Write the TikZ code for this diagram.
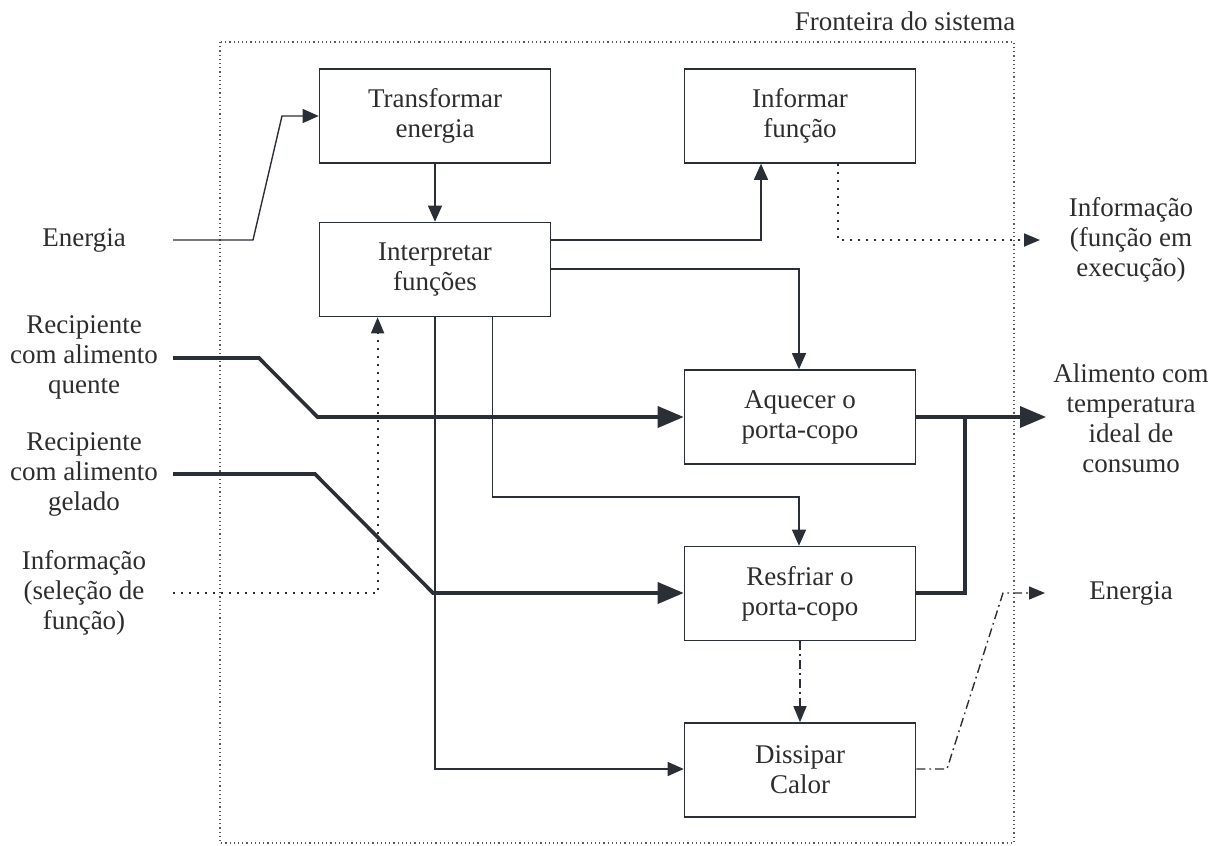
\documentclass[tikz,border=0pt]{standalone}
\usepackage{fontspec}
\setmainfont{Liberation Serif}
\usetikzlibrary{arrows.meta}
\definecolor{ink}{RGB}{42,47,53}
\definecolor{txt}{RGB}{45,45,45}
\begin{document}
\begin{tikzpicture}[x=1pt,y=-1pt,
  every node/.style={font=\fontsize{27}{30}\selectfont, text=txt},
  fbox/.style={draw=ink, line width=1.6pt, minimum width=231pt, minimum height=94pt, align=center, inner sep=0pt},
  lbl/.style={align=center, inner sep=0pt},
  thin/.style={draw=ink, line width=1.4pt},
  thick/.style={draw=ink, line width=3.6pt},
  info/.style={draw=ink, line width=1.8pt, dash pattern=on 2pt off 6pt},
  heat/.style={draw=ink, line width=1.4pt, dash pattern=on 9pt off 4pt on 1.8pt off 4pt},
  tipS/.style={-{Triangle[length=16pt,width=14pt]}},
  tipL/.style={-{Triangle[length=26pt,width=21pt]}},
  tipD/.style={-{Triangle[length=16pt,width=13pt]}},
  border/.style={draw=black!65, line width=1.2pt, dash pattern=on 1.2pt off 3pt}
]
\useasboundingbox (0,0) rectangle (1219,846);

% system boundary
\draw[border] (220,42) rectangle (1014,843);
\node[lbl] (front) at (905,21) {Fronteira do sistema};

% function blocks
\node[fbox] (transf) at (435,116)   {Transformar\\energia};
\node[fbox] (interp) at (435,269.5) {Interpretar\\funções};
\node[fbox] (inform) at (800,116)   {Informar\\função};
\node[fbox] (aquec)  at (800,417)   {Aquecer o\\porta-copo};
\node[fbox] (resfr)  at (800,593.5) {Resfriar o\\porta-copo};
\node[fbox] (dissip) at (800,770)   {Dissipar\\Calor};

% inputs
\node[lbl] (inEn)   at (84,240) {Energia};
\node[lbl] (inQ)    at (84,357) {Recipiente\\com alimento\\quente};
\node[lbl] (inG)    at (84,474) {Recipiente\\com alimento\\gelado};
\node[lbl] (inInfo) at (84,593) {Informação\\(seleção de\\função)};

% outputs
\node[lbl] (outInfo) at (1131,240) {Informação\\(função em\\execução)};
\node[lbl] (outAl)   at (1131,418) {Alimento com\\temperatura\\ideal de\\consumo};
\node[lbl] (outEn)   at (1131,593) {Energia};

% free ends of the flows
\coordinate (sEn)   at (173,240);
\coordinate (sQ)    at (173,358);
\coordinate (sG)    at (173,474);
\coordinate (sInfo) at (173,593);
\coordinate (eInfo) at (1040,240);
\coordinate (eAl)   at (1046,417);
\coordinate (eEn)   at (1045,593);

% energy flow
\draw[thin,tipS] (sEn) -- (253,240) -- (282,116) -- (transf.west);
\draw[thin,tipS] (transf) -- (interp);
\draw[thin,tipS] (interp.east |- 0,240) -- (761,240) -- (761,0 |- inform.south);
\draw[thin,tipS] (interp.east |- 0,269) -- (799,269) -- (799,0 |- aquec.north);
\draw[thin,tipS] (492.7,0 |- interp.south) -- (492.7,497) -- (799,497) -- (799,0 |- resfr.north);
\draw[thin,tipS] (435,0 |- interp.south) -- (435,769) -- (dissip.west |- 0,769);

% material flow
\draw[thick,tipL] (sQ) -- (259,358) -- (317.5,417) -- (aquec.west);
\draw[thick,tipL] (sG) -- (315,474) -- (433,593) -- (resfr.west |- 0,593);
\draw[thick,tipL] (aquec.east) -- (eAl);
\draw[thick] (resfr.east |- 0,593) -- (965,593) -- (965,417);

% signal flow
\draw[info,tipD] (sInfo) -- (377.6,593) -- (377.6,0 |- interp.south);
\draw[info,tipD] (838,0 |- inform.south) -- (838,240) -- (eInfo);

% heat flow
\draw[heat,tipD] (resfr) -- (dissip);
\draw[heat,tipD] (dissip.east |- 0,769) -- (947,769) -- (1003,593) -- (eEn);
\end{tikzpicture}
\end{document}
